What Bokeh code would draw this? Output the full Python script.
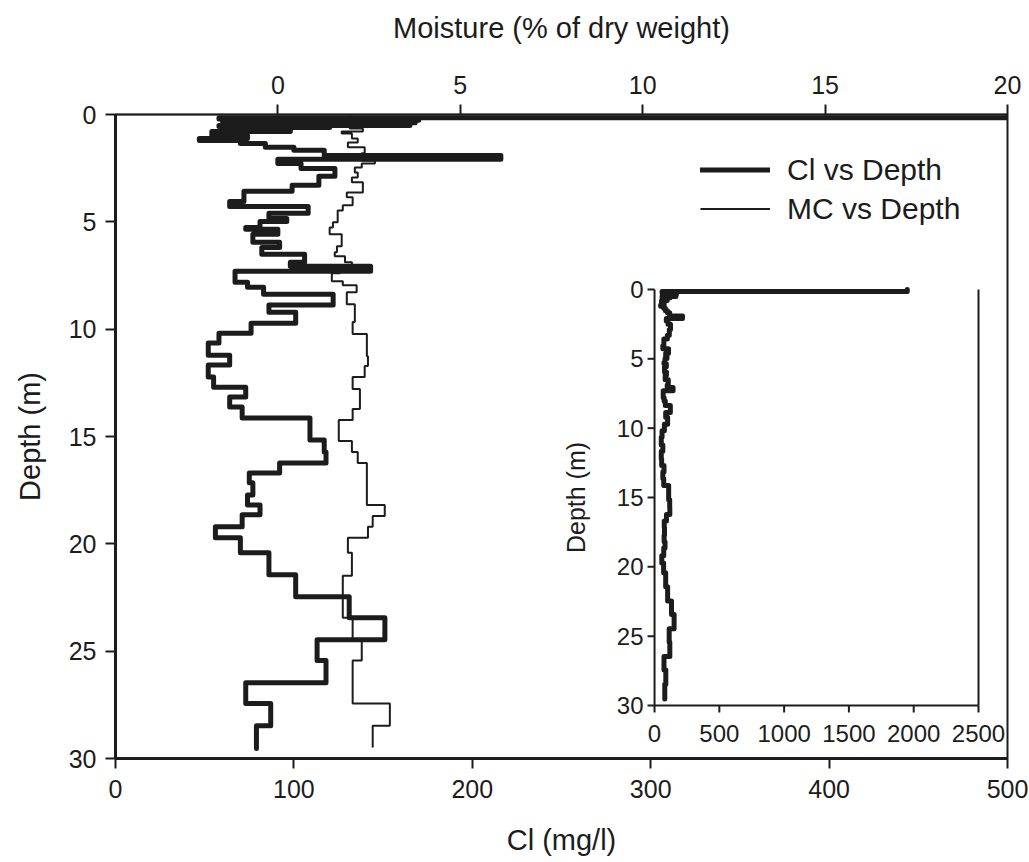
import math
from bokeh.plotting import figure
from bokeh.models import Range1d, LinearAxis, FixedTicker, Legend, LegendItem
from bokeh.embed import file_html
from bokeh.resources import INLINE
from bokeh.core.properties import value

# ---------------- data ----------------
# Chloride step profile: depth boundaries (m) and Cl (mg/l) over each interval
cl_bounds = [0.00, 0.15, 0.21, 0.27, 0.33, 0.39, 0.45, 0.51, 0.56, 0.60, 0.79, 0.98, 1.12, 1.21,
             1.35, 1.53, 1.67, 1.91, 2.09, 2.28, 2.51, 2.88, 3.30, 3.58, 4.05, 4.28, 4.60, 4.84,
             4.98, 5.26, 5.35, 5.58, 5.95, 6.19, 6.51, 6.88, 7.07, 7.30, 7.81, 8.05, 8.37, 8.88,
             9.21, 9.72, 10.19, 10.65, 11.21, 11.67, 12.23, 12.70, 13.16, 13.63, 14.14, 15.16,
             15.72, 16.23, 16.70, 17.16, 17.72, 18.19, 18.65, 19.21, 19.72, 20.42, 21.44, 22.47,
             23.44, 24.47, 25.44, 26.47, 27.44, 28.47, 29.53]
cl_values = [1950, 58, 170, 60, 168, 62, 165, 58, 120, 98, 54, 74, 47, 70, 84, 100, 117, 216,
             91, 104, 123, 114, 99, 72, 64, 108, 86, 96, 81, 73, 91, 77, 92, 82, 106, 98, 143,
             67, 74, 83, 122, 86, 101, 76, 58, 52, 64, 52, 55, 73, 64, 71, 109, 117, 118, 92,
             75, 77, 74, 81, 71, 56, 70, 86, 101, 131, 151, 113, 118, 73, 87, 79]

# Moisture content step profile: depth boundaries (m) and MC (% dry weight)
mc_bounds = [0.05, 0.65, 0.79, 0.88, 1.12, 1.30, 1.53, 1.81, 2.14, 2.28, 2.47, 2.70, 2.93, 3.16,
             3.63, 3.86, 4.23, 4.47, 5.02, 5.26, 5.58, 6.14, 6.42, 6.60, 6.88, 7.16, 7.40, 7.77,
             7.95, 8.28, 8.84, 9.67, 10.23, 11.26, 11.72, 12.23, 12.79, 13.72, 14.23, 15.21,
             15.72, 16.23, 18.19, 18.70, 19.21, 19.72, 20.42, 21.49, 23.44, 24.47, 25.44, 27.44,
             28.47, 29.49]
mc_values = [1.97, 2.33, 1.75, 2.03, 2.19, 1.92, 2.38, 2.30, 2.66, 2.30, 2.11, 2.19, 2.03, 2.33,
             1.89, 2.05, 1.78, 1.64, 1.51, 1.42, 1.75, 1.62, 1.56, 1.84, 2.03, 1.70, 1.48, 1.78,
             2.16, 1.89, 2.11, 2.05, 2.44, 2.47, 2.38, 2.05, 2.25, 2.05, 1.67, 2.03, 2.19, 2.44,
             2.93, 2.60, 2.47, 1.92, 2.03, 1.78, 2.05, 2.30, 2.05, 3.07, 2.60]

cl_ticks = [0, 100, 200, 300, 400, 500]
mc_ticks = [0, 5, 10, 15, 20]
depth_ticks = [0, 5, 10, 15, 20, 25, 30]
inset_cl_ticks = [0, 500, 1000, 1500, 2000, 2500]
inset_depth_ticks = [0, 5, 10, 15, 20, 25, 30]

series_labels = ["Cl vs Depth", "MC vs Depth"]
x_title = "Cl (mg/l)"
top_title = "Moisture (% of dry weight)"
y_title = "Depth (m)"

# ---------------- layout / style ----------------
W, H = 1029, 862
BL, BR, BT, BB = 115, 22, 114, 104
FW, FH = W - BL - BR, H - BT - BB
FONT = "Liberation Sans"
INK = "#1c1c1c"

def step_path(bounds, vals):
    xs, ys = [], []
    for i, v in enumerate(vals):
        xs += [v, v]
        ys += [bounds[i], bounds[i + 1]]
    return xs, ys

cl_x, cl_y = step_path(cl_bounds, cl_values)
mc_x, mc_y = step_path(mc_bounds, mc_values)

p = figure(width=W, height=H, output_backend="svg", toolbar_location=None,
           x_range=Range1d(cl_ticks[0], cl_ticks[-1]),
           y_range=Range1d(depth_ticks[-1], depth_ticks[0]),
           x_axis_location=None, y_axis_location=None,
           min_border_left=BL, min_border_right=BR, min_border_top=BT, min_border_bottom=BB)
p.grid.visible = False
p.outline_line_color = INK
p.outline_line_width = 2
p.background_fill_color = "white"
p.border_fill_color = "white"

# top moisture range: 0..20 occupies the right part of the frame
p.extra_x_ranges = {"mc": Range1d(-4.45, mc_ticks[-1])}

# inset placement (fractions of the frame)
fx0, fx1 = 0.6043, 0.9675
fy0, fy1 = 0.2717, 0.9177
ix_max = inset_cl_ticks[-1]
iy_max = inset_depth_ticks[-1]
span_x = ix_max / (fx1 - fx0)
span_y = iy_max / (fy1 - fy0)
ix_start = -fx0 * span_x
iy_top = -fy0 * span_y
p.extra_x_ranges["inx"] = Range1d(ix_start, ix_start + span_x)
p.extra_y_ranges = {"iny": Range1d(iy_top + span_y, iy_top)}

def style_axis(ax, lw, label_size="25px", title_size="29px"):
    ax.axis_line_color = INK
    ax.axis_line_width = lw
    ax.major_tick_line_color = INK
    ax.major_tick_line_width = 2
    ax.major_tick_out = 10
    ax.major_tick_in = 0
    ax.minor_tick_line_color = None
    ax.major_label_text_font = FONT
    ax.major_label_text_font_size = label_size
    ax.major_label_text_color = INK
    ax.axis_label_text_font = FONT
    ax.axis_label_text_font_size = title_size
    ax.axis_label_text_font_style = "normal"
    ax.axis_label_text_color = INK

xb = LinearAxis(ticker=FixedTicker(ticks=cl_ticks), axis_label=x_title)
style_axis(xb, 3)
xb.major_label_standoff = 11
xb.axis_label_standoff = 23
p.add_layout(xb, "below")

yl = LinearAxis(ticker=FixedTicker(ticks=depth_ticks), axis_label=y_title)
style_axis(yl, 3)
yl.major_label_standoff = 9
yl.axis_label_standoff = 20
p.add_layout(yl, "left")

xt = LinearAxis(x_range_name="mc", ticker=FixedTicker(ticks=mc_ticks), axis_label=top_title)
style_axis(xt, 1.5)
xt.major_label_standoff = 11
xt.axis_label_standoff = 29
p.add_layout(xt, "above")

# main curves
r_cl = p.line(cl_x, cl_y, line_width=5, line_color=INK, line_join="round", line_cap="round")
r_mc = p.line(mc_x, mc_y, x_range_name="mc", line_width=2, line_color=INK)

legend = Legend(items=[LegendItem(label=series_labels[0], renderers=[r_cl]),
                       LegendItem(label=series_labels[1], renderers=[r_mc])],
                location=(585, 530), orientation="vertical",
                glyph_width=70, glyph_height=39, label_height=39, label_width=10,
                spacing=0, padding=0, margin=0, label_standoff=17,
                label_text_font=FONT, label_text_font_size="30px", label_text_color=INK,
                label_text_baseline="middle",
                border_line_color=None, background_fill_alpha=0)
p.add_layout(legend)

# ---------------- inset ----------------
tick_dx = 7 * span_x / FW
tick_dy = 7 * span_y / FH
rn = dict(x_range_name="inx", y_range_name="iny")

# frame lines: left axis, bottom axis, right edge
p.segment(x0=[0, 0, ix_max], y0=[0, iy_max, 0], x1=[0, ix_max, ix_max], y1=[iy_max, iy_max, iy_max],
          line_color=INK, line_width=2, **rn)
# ticks
p.segment(x0=[0] * len(inset_depth_ticks), y0=inset_depth_ticks,
          x1=[-tick_dx] * len(inset_depth_ticks), y1=inset_depth_ticks,
          line_color=INK, line_width=2, **rn)
p.segment(x0=inset_cl_ticks, y0=[iy_max] * len(inset_cl_ticks),
          x1=inset_cl_ticks, y1=[iy_max + tick_dy] * len(inset_cl_ticks),
          line_color=INK, line_width=2, **rn)
# tick labels
p.text(x=[0] * len(inset_depth_ticks), y=inset_depth_ticks,
       text=[str(t) for t in inset_depth_ticks], x_offset=-11,
       text_align="right", text_baseline="middle", text_font=value(FONT),
       text_font_size=value("24px"), text_color=INK, **rn)
p.text(x=inset_cl_ticks, y=[iy_max] * len(inset_cl_ticks),
       text=[str(t) for t in inset_cl_ticks], y_offset=20,
       text_align="center", text_baseline="top", text_font=value(FONT),
       text_font_size=value("24px"), text_color=INK, **rn)
p.text(x=[0], y=[iy_max / 2], text=[y_title], x_offset=-79, angle=math.pi / 2,
       text_align="center", text_baseline="middle", text_font=value(FONT),
       text_font_size=value("25px"), text_color=INK, **rn)
# inset curve
p.line(cl_x, cl_y, line_width=5, line_color=INK, line_join="round", line_cap="round", **rn)

open("out.html", "w").write(file_html(p, INLINE))
